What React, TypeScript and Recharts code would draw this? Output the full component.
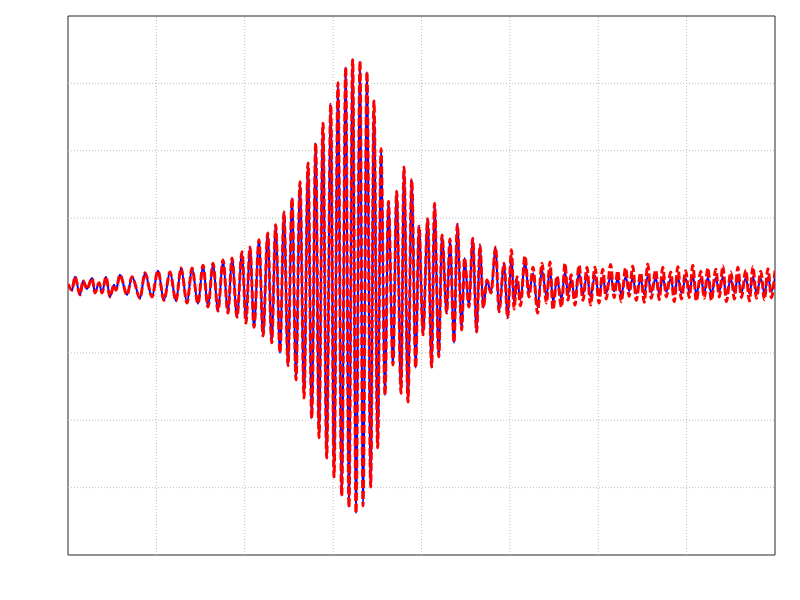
import { LineChart, Line, XAxis, YAxis, ReferenceArea, ReferenceLine } from "recharts";

// time of each turning point (s)
const time = [
  0, 0.45, 0.79, 1.36, 1.7, 2.15, 2.72, 3.06, 3.51, 3.85,
  4.3, 4.75, 5.2, 5.43, 5.88, 6.68, 7.24, 8.15, 8.71, 9.5,
  10.18, 10.86, 11.54, 12.22, 12.79, 13.47, 14.03, 14.71, 15.28, 15.84,
  16.41, 16.97, 17.54, 18.1, 18.56, 19.12, 19.69, 20.14, 20.59, 21.05,
  21.61, 22.07, 22.6, 23.05, 23.5, 23.99, 24.44, 24.89, 25.35, 25.8,
  26.25, 26.71, 27.16, 27.58, 28.03, 28.4, 28.85, 29.27, 29.73, 30.1,
  30.55, 30.97, 31.42, 31.79, 32.21, 32.59, 33.04, 33.38, 33.83, 34.25,
  34.62, 35.04, 35.42, 35.87, 36.26, 36.77, 37.19, 37.68, 38.02, 38.47,
  38.89, 39.34, 39.72, 40.17, 40.7, 41.15, 41.47, 41.95, 42.32, 42.85,
  43.22, 43.68, 44.05, 44.55, 44.87, 45.37, 45.79, 46.24, 46.62, 46.99,
  47.41, 47.86, 48.39, 48.77, 49.34, 49.75, 50.18, 50.47, 50.81, 51.2,
  51.71, 52.16, 52.62, 53.13, 53.63, 54.14, 54.54, 54.88, 55.33, 55.84,
  56.24, 56.58, 56.92, 57.37, 57.82, 58.27, 58.73, 59.12, 59.63, 60.09,
  60.5, 60.9, 61.4, 61.8, 62.2, 62.6, 63.1, 63.5, 63.9, 64.3,
  64.8, 65.2, 65.6, 66.0, 66.5, 66.9, 67.3, 67.7, 68.2, 68.6,
  69.0, 69.4, 69.9, 70.3, 70.7, 71.1, 71.6, 72.0, 72.4, 72.8,
  73.3, 73.7, 74.1, 74.5, 75.0, 75.4, 75.8, 76.2, 76.7, 77.1,
  77.5, 77.9, 78.4, 78.8, 79.2, 79.6, 80.0,
];

// measured signal
const measured = [
  0.2, -0.7, 1.3, -1.4, 0.7, -0.5, 1.1, -1.1, 0.4, -1.1,
  1.3, -1.7, 0.1, -0.7, 1.6, -1.4, 1.3, -1.9, 1.9, -1.7,
  2.2, -2.2, 2.0, -2.3, 2.6, -2.6, 2.6, -2.7, 3.0, -3.2,
  3.3, -3.8, 3.8, -4.1, 4.1, -4.7, 5.0, -5.6, 5.7, -6.2,
  6.8, -7.5, 7.8, -8.5, 9.0, -10.0, 10.9, -11.9, 13.0, -14.0,
  15.4, -16.7, 18.2, -19.7, 21.1, -22.6, 24.1, -25.6, 26.9, -28.4,
  30.1, -31.2, 32.4, -32.9, 33.5, -33.8, 33.3, -32.7, 31.7, -29.9,
  27.4, -24.1, 20.3, -16.3, 12.5, -11.8, 14.0, -16.0, 17.6, -17.3,
  15.7, -12.2, 8.8, -7.3, 9.9, -12.1, 12.2, -10.6, 7.5, -4.1,
  6.9, -8.5, 9.1, -6.6, 4.1, -3.2, 7.0, -6.9, 6.0, -3.3,
  0.8, -1.1, 5.7, -3.9, 3.3, -4.8, 4.5, -2.8, 0.9, -2.1,
  3.6, -1.2, 1.8, -3.2, 2.3, -1.6, 2.5, -2.4, 0.8, -2.0,
  2.1, -1.3, 0.9, -1.8, 1.9, -1.3, 1.6, -1.7, 1.5, -1.5,
  1.2, -1.1, 1.4, -0.9, 1.0, -1.3, 1.3, -0.8, 1.1, -1.2,
  0.9, -1.3, 1.4, -1.0, 1.1, -1.2, 1.2, -0.9, 1.0, -1.3,
  1.3, -1.1, 1.0, -0.9, 1.4, -1.2, 1.0, -1.0, 1.2, -1.2,
  1.1, -0.9, 1.3, -1.3, 0.9, -1.0, 1.2, -1.0, 1.1, -1.2,
  1.3, -1.0, 1.0, -1.1, 1.2, -0.9, 1.1,
];

// estimated signal
const estimated = [
  0.2, -0.7, 1.3, -1.4, 0.7, -0.5, 1.1, -1.1, 0.4, -1.1,
  1.3, -1.7, 0.1, -0.7, 1.6, -1.4, 1.3, -1.9, 1.9, -1.7,
  2.2, -2.2, 2.0, -2.3, 2.6, -2.6, 2.6, -2.7, 3.0, -3.2,
  3.3, -3.8, 3.8, -4.1, 4.1, -4.7, 5.0, -5.6, 5.7, -6.2,
  6.8, -7.5, 7.8, -8.5, 9.0, -10.0, 10.9, -11.9, 13.0, -14.0,
  15.4, -16.7, 18.2, -19.7, 21.1, -22.6, 24.1, -25.6, 26.9, -28.4,
  30.1, -31.2, 32.4, -32.9, 33.5, -33.8, 33.3, -32.7, 31.7, -29.9,
  27.4, -24.1, 20.3, -16.3, 12.5, -11.8, 14.0, -16.0, 17.6, -17.3,
  15.7, -12.2, 8.8, -7.3, 9.9, -12.1, 12.2, -10.6, 7.5, -4.1,
  6.9, -8.5, 9.1, -6.6, 4.1, -3.2, 7.0, -6.9, 6.0, -3.3,
  0.8, -1.1, 5.7, -3.9, 3.3, -4.8, 5.3, -3.5, 1.3, -3.0,
  4.4, -1.7, 2.7, -4.1, 3.3, -2.6, 3.5, -3.6, 1.4, -3.2,
  3.3, -2.2, 1.6, -2.9, 3.0, -2.2, 2.7, -2.9, 2.7, -2.6,
  2.4, -2.0, 3.1, -1.8, 2.2, -2.4, 2.6, -1.6, 2.9, -2.2,
  1.9, -2.5, 3.2, -1.9, 2.3, -2.1, 2.7, -1.7, 2.0, -2.4,
  2.8, -2.0, 2.2, -1.8, 3.0, -2.3, 2.1, -1.9, 2.6, -2.2,
  2.4, -1.7, 2.9, -2.4, 2.0, -2.0, 2.7, -1.8, 2.3, -2.3,
  2.8, -1.9, 2.1, -2.1, 2.5, -1.8, 2.2,
];

const xTicks = [0, 10, 20, 30, 40, 50, 60, 70, 80];
const yTicks = [-40, -30, -20, -10, 0, 10, 20, 30, 40];

const data = time.map((t, i) => ({ t, measured: measured[i], estimated: estimated[i] }));

const gridColor = "#bdbdbd";

export default function App() {
  return (
    <div style={{ position: "absolute", left: 0, top: 0, width: 800, height: 600, background: "#fff" }}>
      <LineChart width={800} height={600} data={data} margin={{ top: 16, right: 25, bottom: 45, left: 68 }}>
        <XAxis
          type="number"
          dataKey="t"
          domain={[0, 80]}
          ticks={xTicks}
          tick={false}
          tickLine={false}
          axisLine={false}
          height={0}
          allowDataOverflow
        />
        <YAxis
          type="number"
          domain={[-40, 40]}
          ticks={yTicks}
          tick={false}
          tickLine={false}
          axisLine={false}
          width={0}
          allowDataOverflow
        />
        {xTicks.slice(1, -1).map((v) => (
          <ReferenceLine key={"x" + v} x={v} stroke={gridColor} strokeDasharray="1 2" />
        ))}
        {yTicks.slice(1, -1).map((v) => (
          <ReferenceLine key={"y" + v} y={v} stroke={gridColor} strokeDasharray="1 2" />
        ))}
        <ReferenceArea x1={0} x2={80} y1={-40} y2={40} fill="none" stroke="#262626" strokeWidth={1} />
        <Line
          type="monotone"
          dataKey="measured"
          stroke="#0000ff"
          strokeWidth={2}
          dot={false}
          activeDot={false}
          isAnimationActive={false}
        />
        <Line
          type="monotone"
          dataKey="estimated"
          stroke="#ff0000"
          strokeWidth={3}
          strokeDasharray="8 3"
          dot={false}
          activeDot={false}
          isAnimationActive={false}
        />
      </LineChart>
    </div>
  );
}
